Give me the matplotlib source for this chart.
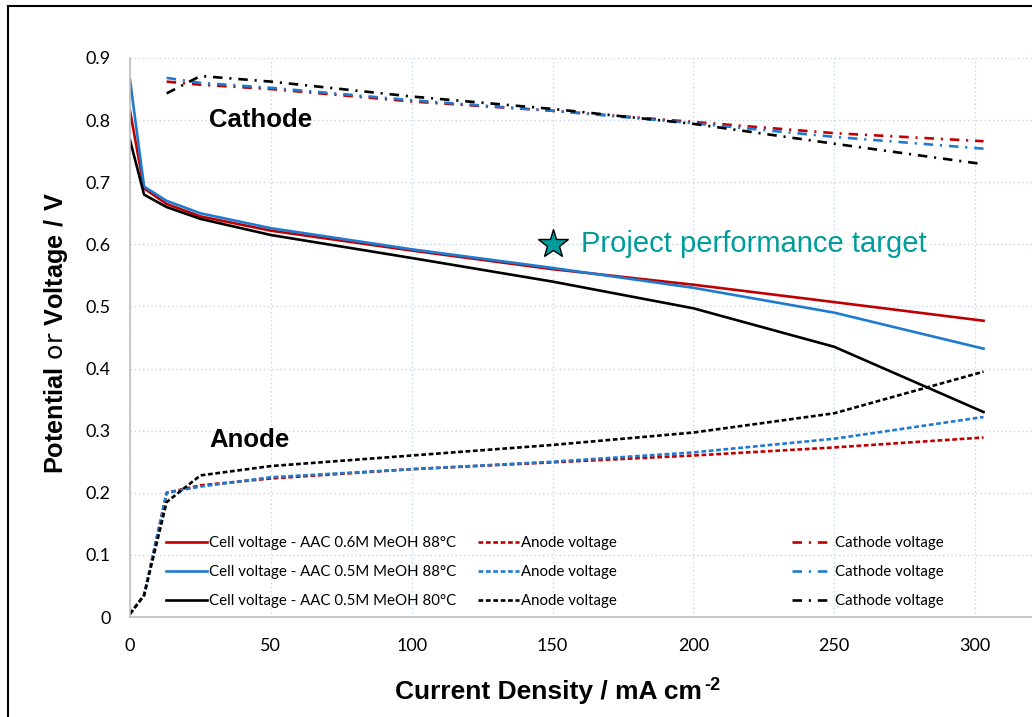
import numpy as np
import matplotlib
matplotlib.use('Agg')
import matplotlib.pyplot as plt
from matplotlib.lines import Line2D

plt.rcParams['mathtext.fontset'] = 'custom'
plt.rcParams['mathtext.rm'] = 'Liberation Sans'
plt.rcParams['mathtext.bf'] = 'Liberation Sans:bold'

# current density, mA cm-2
x_cell = [0, 5, 13, 25, 50, 100, 150, 200, 250, 303]
cell_06_88 = [0.815, 0.690, 0.665, 0.645, 0.622, 0.590, 0.560, 0.535, 0.507, 0.477]
cell_05_88 = [0.865, 0.693, 0.670, 0.650, 0.626, 0.592, 0.562, 0.530, 0.490, 0.432]
cell_05_80 = [0.768, 0.680, 0.660, 0.641, 0.615, 0.578, 0.540, 0.497, 0.435, 0.330]

x_anode = [0, 5, 13, 25, 50, 100, 150, 200, 250, 303]
anode_06_88 = [0.005, 0.035, 0.200, 0.212, 0.223, 0.238, 0.249, 0.260, 0.273, 0.289]
anode_05_88 = [0.005, 0.035, 0.200, 0.210, 0.225, 0.238, 0.250, 0.265, 0.287, 0.322]
anode_05_80 = [0.005, 0.035, 0.185, 0.228, 0.243, 0.260, 0.277, 0.297, 0.328, 0.395]

x_cath = [13, 25, 50, 100, 150, 200, 250, 303]
cath_06_88 = [0.862, 0.857, 0.850, 0.830, 0.815, 0.797, 0.779, 0.766]
cath_05_88 = [0.868, 0.860, 0.852, 0.832, 0.815, 0.795, 0.773, 0.754]
cath_05_80 = [0.843, 0.871, 0.862, 0.838, 0.818, 0.794, 0.762, 0.729]

cell_labels = ['Cell voltage - AAC 0.6M MeOH 88°C',
               'Cell voltage - AAC 0.5M MeOH 88°C',
               'Cell voltage - AAC 0.5M MeOH 80°C']
colors = ['#c00000', '#1f7bd0', '#000000']

target_x = 150
target_y = 0.6

fig = plt.figure(figsize=(10.32, 7.17), dpi=100)
ax = fig.add_axes([130/1032, 1-617/717, 1-130/1032, (617-58)/717])
xmax = (1032-130)/2.817

lw = 1.9
anode_dash = (1.8, 1.0)
cath_dash = (3.6, 2.6, 0.8, 2.6)

cells = [cell_06_88, cell_05_88, cell_05_80]
anodes = [anode_06_88, anode_05_88, anode_05_80]
caths = [cath_06_88, cath_05_88, cath_05_80]

h_cell, h_an, h_ca = [], [], []
for i in range(3):
    l1, = ax.plot(x_cell, cells[i], color=colors[i], lw=lw, label=cell_labels[i])
    l2, = ax.plot(x_anode, anodes[i], color=colors[i], lw=lw, dashes=anode_dash, label='Anode voltage')
    l3, = ax.plot(x_cath, caths[i], color=colors[i], lw=lw, dashes=cath_dash, label='Cathode voltage')
    h_cell.append(l1)
    h_an.append(l2)
    h_ca.append(l3)

ax.plot([target_x], [target_y], marker='*', markersize=22, color='#009c9c',
        markeredgecolor='black', markeredgewidth=1, zorder=5)
ax.text(target_x + 10, target_y, 'Project performance target', color='#009c9c',
        fontsize=21, va='center', ha='left', family='Liberation Sans')

ax.text(28, 0.8, 'Cathode', fontsize=18.5, fontweight='bold', family='Liberation Sans',
        va='center', ha='left')
ax.text(28, 0.285, 'Anode', fontsize=18.5, fontweight='bold', family='Liberation Sans',
        va='center', ha='left')

ax.set_xlim(0, xmax)
ax.set_ylim(0, 0.9)
ax.set_xticks([0, 50, 100, 150, 200, 250, 300])
ax.set_yticks(np.arange(0, 0.91, 0.1))
ax.set_yticklabels(['0', '0.1', '0.2', '0.3', '0.4', '0.5', '0.6', '0.7', '0.8', '0.9'])
for t in ax.get_xticklabels() + ax.get_yticklabels():
    t.set_family('Lato')
    t.set_fontsize(13)
ax.tick_params(length=0)
ax.tick_params(axis='x', pad=15)
ax.tick_params(axis='y', pad=14)
ax.grid(True, color='#c5d5ea', linestyle=(0, (1, 2)), lw=1)
ax.set_axisbelow(True)
for s in ['top', 'right']:
    ax.spines[s].set_visible(False)
for s in ['left', 'bottom']:
    ax.spines[s].set_color('#bfbfbf')
    ax.spines[s].set_linewidth(1.2)

ax.set_ylabel(r'$\bf{Potential}$ or $\bf{Voltage\ /\ V}$', fontsize=18.2)
ax.yaxis.set_label_coords(-60/902, (617-333)/559)

fig.text(395/1032, 1-692/717, 'Current Density / mA cm', fontsize=19, fontweight='bold',
         family='Liberation Sans', ha='left', va='center', gid='xlab')

leg_kw = dict(frameon=False, prop={'family': 'Lato', 'size': 10.8}, labelspacing=1.0,
              handletextpad=0.1, borderaxespad=0)
ytop = (617-530)/559
leg1 = ax.legend(handles=h_cell, loc='upper left', bbox_to_anchor=(30/2.817/xmax, ytop),
                 handlelength=2.75, **leg_kw)
ax.add_artist(leg1)
leg2 = ax.legend(handles=h_an, loc='upper left', bbox_to_anchor=(342/2.817/xmax, ytop),
                 handlelength=2.75, **leg_kw)
ax.add_artist(leg2)
leg3 = ax.legend(handles=h_ca, loc='upper left', bbox_to_anchor=(656/2.817/xmax, ytop),
                 handlelength=2.75, **leg_kw)

# superscript after the x label
fig.canvas.draw()
xl = [t for t in fig.texts if t.get_gid() == 'xlab'][0]
bb = xl.get_window_extent()
fig.text(bb.x1 / 1032 + 2/1032, (bb.y1 - 6) / 717, '-2', fontsize=13, fontweight='bold',
         family='Liberation Sans', ha='left', va='center')

# frame around the figure (only top and left visible in the crop)
fig.add_artist(Line2D([8/1032, 8/1032], [0, 1-6/717], color='black', lw=1.5,
                      transform=fig.transFigure))
fig.add_artist(Line2D([8/1032, 1], [1-6/717, 1-6/717], color='black', lw=1.5,
                      transform=fig.transFigure))

plt.savefig('out.png', dpi=100)
